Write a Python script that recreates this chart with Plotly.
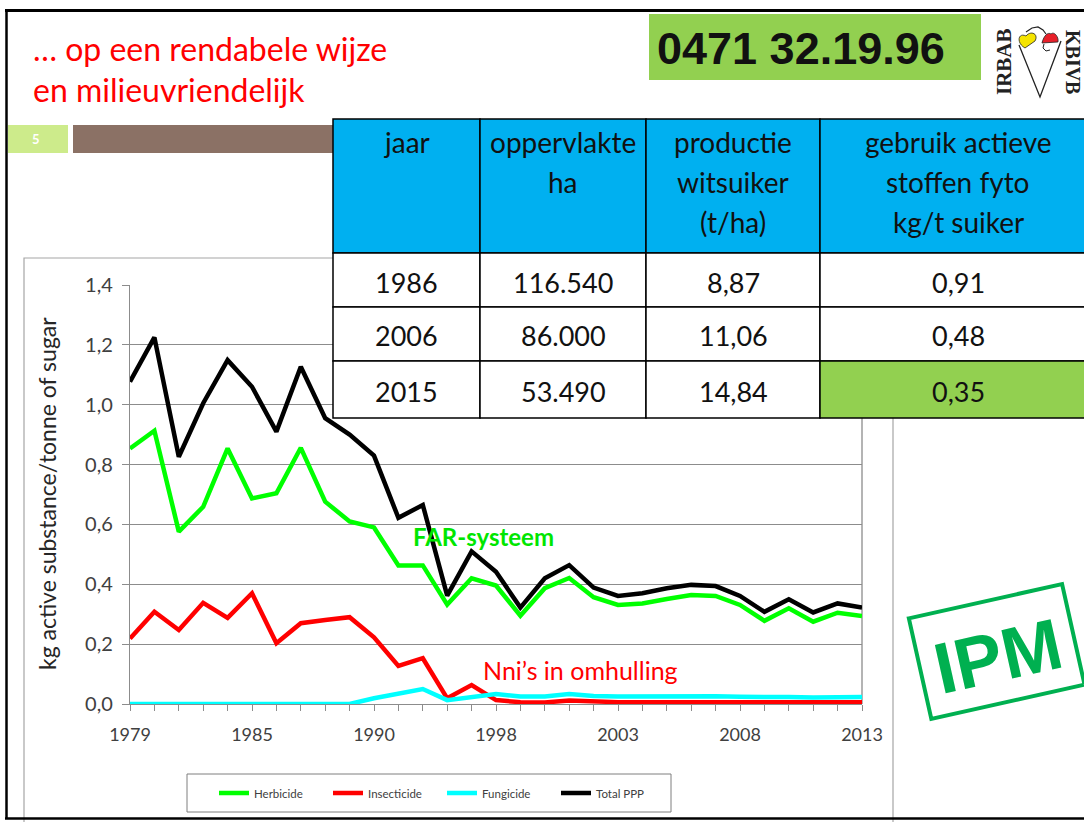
import math
import plotly.graph_objects as go

W, H = 1084, 822

# ---------------- data ----------------
years = ["1979", "1980", "1981", "1982", "1983", "1985", "1986", "1987", "1988", "1989",
         "1990", "1991", "1992", "1994", "1996", "1998", "1999", "2000", "2001", "2002",
         "2003", "2004", "2005", "2006", "2007", "2008", "2009", "2010", "2011", "2012", "2013"]
shown_year_labels = ["1979", "1985", "1990", "1998", "2003", "2008", "2013"]

herbicide = [0.854, 0.913, 0.576, 0.659, 0.854, 0.687, 0.704, 0.856, 0.676, 0.610,
             0.590, 0.463, 0.463, 0.332, 0.420, 0.396, 0.295, 0.387, 0.421, 0.357,
             0.331, 0.336, 0.351, 0.364, 0.361, 0.331, 0.278, 0.320, 0.275, 0.305, 0.294]
insecticide = [0.219, 0.308, 0.247, 0.338, 0.288, 0.370, 0.203, 0.270, 0.281, 0.290,
               0.223, 0.127, 0.153, 0.019, 0.063, 0.013, 0.006, 0.005, 0.012, 0.008,
               0.006, 0.006, 0.006, 0.007, 0.007, 0.006, 0.005, 0.005, 0.005, 0.006, 0.006]
fungicide = [0.0, 0.0, 0.0, 0.0, 0.0, 0.0, 0.0, 0.0, 0.0, 0.0,
             0.019, 0.033, 0.050, 0.013, 0.024, 0.033, 0.025, 0.025, 0.033, 0.027,
             0.025, 0.026, 0.026, 0.026, 0.026, 0.024, 0.022, 0.023, 0.022, 0.023, 0.023]
total_ppp = [1.077, 1.225, 0.826, 1.005, 1.149, 1.060, 0.910, 1.127, 0.955, 0.900,
             0.830, 0.622, 0.665, 0.362, 0.510, 0.442, 0.322, 0.420, 0.464, 0.389,
             0.361, 0.370, 0.387, 0.398, 0.394, 0.361, 0.308, 0.350, 0.306, 0.336, 0.322]

series_names = ["Herbicide", "Insecticide", "Fungicide", "Total PPP"]
series_colors = ["#00FF00", "#FF0000", "#00FFFF", "#000000"]

table_headers = ["jaar", "oppervlakte<br>ha", "productie<br>witsuiker<br>(t/ha)",
                 "gebruik actieve<br>stoffen fyto<br>kg/t suiker"]
table_years = ["1986", "2006", "2015"]
table_area = ["116.540", "86.000", "53.490"]
table_production = ["8,87", "11,06", "14,84"]
table_usage = ["0,91", "0,48", "0,35"]

title_lines = ["… op een rendabele wijze", "en milieuvriendelijk"]
phone = "0471 32.19.96"

# ---------------- helpers ----------------
def fx(x):
    return x / W

def fy(y):
    return 1 - y / H

def path(points, close=True):
    s = "M " + " L ".join(f"{fx(x):.5f},{fy(y):.5f}" for x, y in points)
    return s + (" Z" if close else "")

def ann(text, x, y, size, color, family=None, xanchor="center", angle=0):
    return dict(text=text, x=fx(x), y=fy(y), xref="paper", yref="paper", showarrow=False,
                xanchor=xanchor, yanchor="middle", textangle=angle,
                font=dict(family=family or FONT, size=size, color=color))

FONT = "Lato, 'Open Sans', sans-serif"

fig = go.Figure()
series = [herbicide, insecticide, fungicide, total_ppp]
for name, color, vals in zip(series_names, series_colors, series):
    fig.add_trace(go.Scatter(x=years, y=vals, mode="lines", name=name,
                             line=dict(color=color, width=4.5)))

shapes = []
annotations = []

# chart box
shapes.append(dict(type="rect", xref="paper", yref="paper", x0=fx(24), x1=fx(893), y0=fy(258), y1=fy(830),
                   line=dict(color="#A6A6A6", width=1.2), fillcolor="white", layer="below"))
# plot right border
shapes.append(dict(type="line", xref="paper", yref="paper", x0=fx(862), x1=fx(862), y0=fy(285), y1=fy(704),
                   line=dict(color="#8C8C8C", width=1.3), layer="below"))
# legend box
shapes.append(dict(type="rect", xref="paper", yref="paper", x0=fx(187), x1=fx(671), y0=fy(774), y1=fy(812),
                   line=dict(color="#7F7F7F", width=1), fillcolor="white", layer="below"))

# slide frame
shapes.append(dict(type="line", xref="paper", yref="paper", x0=fx(5), x1=fx(1090), y0=fy(10.5), y1=fy(10.5),
                   line=dict(color="black", width=3), layer="above"))
shapes.append(dict(type="line", xref="paper", yref="paper", x0=fx(6.5), x1=fx(6.5), y0=fy(9), y1=fy(819),
                   line=dict(color="black", width=2.5), layer="above"))
shapes.append(dict(type="line", xref="paper", yref="paper", x0=fx(5), x1=fx(1090), y0=fy(818.5), y1=fy(818.5),
                   line=dict(color="black", width=2.5), layer="above"))

# slide number + brown bar
shapes.append(dict(type="rect", xref="paper", yref="paper", x0=fx(8), x1=fx(68), y0=fy(125), y1=fy(153),
                   line=dict(width=0), fillcolor="#CDEB8B", layer="above"))
shapes.append(dict(type="rect", xref="paper", yref="paper", x0=fx(73), x1=fx(334), y0=fy(125), y1=fy(153),
                   line=dict(width=0), fillcolor="#8B7165", layer="above"))
annotations.append(ann("<b>5</b>", 36, 139, 13, "white"))

# title
for i, t in enumerate(title_lines):
    annotations.append(ann(t, 31, 48 + 42 * i, 32, "#FF0000", xanchor="left"))

# phone box
shapes.append(dict(type="rect", xref="paper", yref="paper", x0=fx(649), x1=fx(981), y0=fy(14), y1=fy(80),
                   line=dict(width=0), fillcolor="#92D050", layer="above"))
annotations.append(ann(f"<b>{phone}</b>", 801, 48, 45, "#111111", family="'Liberation Sans', Arial"))

# logo
annotations.append(ann("<b>IRBAB</b>", 1004, 62, 21, "#222", family="'Liberation Serif', serif", angle=-90))
annotations.append(ann("<b>KBIVB</b>", 1073, 62, 20, "#222", family="'Liberation Serif', serif", angle=90))
shapes.append(dict(type="path", xref="paper", yref="paper",
                   path=path([(1019, 45), (1040, 97), (1061, 41)], close=False),
                   line=dict(color="#222", width=1.3), layer="above"))
shapes.append(dict(type="path", xref="paper", yref="paper",
                   path=path([(1026, 32), (1032, 28), (1038, 27), (1043, 30), (1046, 34)], close=False),
                   line=dict(color="#222", width=1.2), layer="above"))
# yellow heart
hx, hy = 1028, 40
shapes.append(dict(type="path", xref="paper", yref="paper",
                   path=(f"M {fx(hx-3):.5f},{fy(hy+8):.5f} "
                         f"C {fx(hx-12):.5f},{fy(hy+3):.5f} {fx(hx-10):.5f},{fy(hy-8):.5f} {fx(hx-2):.5f},{fy(hy-4):.5f} "
                         f"C {fx(hx+3):.5f},{fy(hy-10):.5f} {fx(hx+11):.5f},{fy(hy-6):.5f} {fx(hx+7):.5f},{fy(hy+1):.5f} Z"),
                   line=dict(color="#222", width=0.8), fillcolor="#F5E400", layer="above"))
# red cap
rx, ry = 1050, 38
shapes.append(dict(type="path", xref="paper", yref="paper",
                   path=(f"M {fx(rx-8):.5f},{fy(ry+5):.5f} "
                         f"C {fx(rx-6):.5f},{fy(ry-3):.5f} {fx(rx-2):.5f},{fy(ry-6):.5f} {fx(rx+1):.5f},{fy(ry-4):.5f} "
                         f"C {fx(rx+4):.5f},{fy(ry-7):.5f} {fx(rx+9):.5f},{fy(ry-1):.5f} {fx(rx+8):.5f},{fy(ry+4):.5f} Z"),
                   line=dict(color="#222", width=0.8), fillcolor="#E8202A", layer="above"))
shapes.append(dict(type="path", xref="paper", yref="paper",
                   path=path([(1044, 44), (1043, 48), (1046, 51), (1050, 50)], close=False),
                   line=dict(color="#222", width=1), layer="above"))

# table
col_edges = [333, 480, 646, 820, 1096]
row_edges = [119, 253, 307, 361, 418]
cells = [table_years, table_area, table_production, table_usage]
for c in range(4):
    shapes.append(dict(type="rect", xref="paper", yref="paper", x0=fx(col_edges[c]), x1=fx(col_edges[c + 1]),
                       y0=fy(row_edges[0]), y1=fy(row_edges[1]), fillcolor="#00B0F0",
                       line=dict(color="black", width=1.5), layer="above"))
    for r in range(3):
        fill = "#92D050" if (c == 3 and r == 2) else "white"
        shapes.append(dict(type="rect", xref="paper", yref="paper", x0=fx(col_edges[c]), x1=fx(col_edges[c + 1]),
                           y0=fy(row_edges[r + 1]), y1=fy(row_edges[r + 2]), fillcolor=fill,
                           line=dict(color="black", width=1.5), layer="above"))
    cx = (col_edges[c] + col_edges[c + 1]) / 2
    for li, line_txt in enumerate(table_headers[c].split("<br>")):
        annotations.append(ann(line_txt, cx, 142 + 40 * li, 28, "#111"))
    for r in range(3):
        cy = (row_edges[r + 1] + row_edges[r + 2]) / 2 + 2
        annotations.append(ann(cells[c][r], cx, cy, 27, "#111"))

# chart annotations
annotations.append(ann("<b>FAR-systeem</b>", 483, 536, 24, "#00E600"))
annotations.append(ann("Nni’s in omhulling", 580, 670, 25, "#FF0000"))
annotations.append(ann("kg active substance/tonne of sugar", 47, 494, 23, "#262626", angle=-90))

# IPM stamp
cxs, cys, w, h, ang = 996.7, 651.5, 157, 103, -12.6
a = math.radians(ang)
corners = []
for dx, dy in [(-w / 2, -h / 2), (w / 2, -h / 2), (w / 2, h / 2), (-w / 2, h / 2)]:
    corners.append((cxs + dx * math.cos(a) - dy * math.sin(a), cys + dx * math.sin(a) + dy * math.cos(a)))
shapes.append(dict(type="path", xref="paper", yref="paper", path=path(corners),
                   line=dict(color="#00B050", width=4), layer="above"))
annotations.append(ann("<b>IPM</b>", 998, 656, 72, "#00B050", family="'Liberation Sans', Arial", angle=ang))

tick_text = [y if y in shown_year_labels else "" for y in years]

fig.update_layout(
    width=W, height=H, autosize=False,
    margin=dict(l=0, r=0, t=0, b=0, pad=0, autoexpand=False),
    paper_bgcolor="white", plot_bgcolor="rgba(0,0,0,0)",
    separators=",.",
    shapes=shapes, annotations=annotations,
    showlegend=True,
    legend=dict(orientation="h", x=fx(214), y=fy(793), xanchor="left", yanchor="middle",
                bgcolor="rgba(0,0,0,0)", borderwidth=0, entrywidth=69, entrywidthmode="pixels",
                font=dict(family=FONT, size=11.5, color="#404040"), itemwidth=30, tracegroupgap=0),
    xaxis=dict(domain=[fx(130), fx(862)], type="category", range=[0, len(years) - 1],
               tickmode="array", tickvals=years, ticktext=tick_text,
               ticks="outside", ticklen=6, tickcolor="#8C8C8C", tickwidth=1.3,
               showline=True, linecolor="#8C8C8C", linewidth=1.3, showgrid=False,
               tickfont=dict(family=FONT, size=18, color="#404040"), ticklabelstandoff=8,
               fixedrange=True),
    yaxis=dict(domain=[fy(704), fy(285)], range=[0, 1.4], dtick=0.2, tick0=0, tickformat=".1f",
               ticks="outside", ticklen=7, tickcolor="#8C8C8C", tickwidth=1.3,
               showline=True, linecolor="#8C8C8C", linewidth=1.3,
               showgrid=True, gridcolor="#8C8C8C", gridwidth=1.3, zeroline=False,
               tickfont=dict(family=FONT, size=20, color="#404040"), ticklabelstandoff=5),
)

fig.write_html("out.html", config={"displayModeBar": False},
               post_script="document.body.style.margin='0';document.body.style.overflow='hidden';")
